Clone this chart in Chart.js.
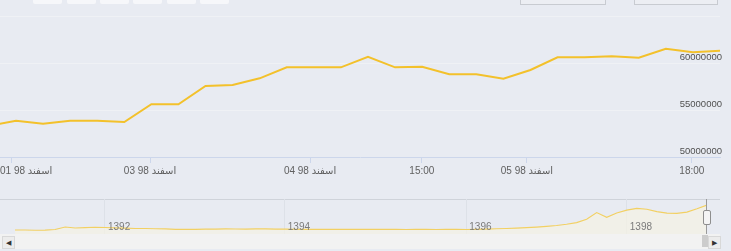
<!DOCTYPE html>
<html>
<head>
<meta charset="utf-8">
<script src="https://cdn.jsdelivr.net/npm/chart.js@4/dist/chart.umd.min.js"></script>
<style>
  body { margin: 0; background: #e8ebf2; }
  #wrap { position: relative; width: 731px; height: 251px; overflow: hidden; background: #e8ebf2; }
  canvas { position: absolute; left: 0; }
  #main { top: 0; }
  #nav { top: 190px; }
  .btn { position: absolute; top: -6px; width: 29px; height: 10px; background: #f6f7fa; border-radius: 2px; }
  .inp { position: absolute; top: -6px; height: 9px; background: #eceef3; border: 1px solid #c8cbd1; }
  #navTop { position: absolute; left: 0; top: 199px; width: 720px; height: 1px; background: #cfd3da; }
  #scroll { position: absolute; left: 0; top: 234px; width: 720px; height: 15px; background: #f2f2f2; }
  .arr { position: absolute; top: 236px; width: 11px; height: 11px; background: #ececec; border: 1px solid #d8d8d8; font: 7px sans-serif; color: #333; text-align: center; line-height: 11px; }
  #thumb { position: absolute; left: 702px; top: 235px; width: 6px; height: 12px; background: #cccccc; }
  #edge { position: absolute; left: 706px; top: 199px; width: 1px; height: 35px; background: #9a9a9a; }
  #handle { position: absolute; left: 703px; top: 210px; width: 6px; height: 13px; background: #f4f4f4; border: 1px solid #8e8e8e; border-radius: 2px; }
</style>
</head>
<body>
<div id="wrap">
  <canvas id="main" width="731" height="190"></canvas>
  <div id="navTop"></div>
  <div id="scroll"></div>
  <canvas id="nav" width="731" height="61"></canvas>
  <div class="btn" style="left:33px"></div>
  <div class="btn" style="left:67px"></div>
  <div class="btn" style="left:100px"></div>
  <div class="btn" style="left:133px"></div>
  <div class="btn" style="left:167px"></div>
  <div class="btn" style="left:200px"></div>
  <div class="inp" style="left:520px;width:84px"></div>
  <div class="inp" style="left:634px;width:82px"></div>
  <div class="arr" style="left:2px">&#9664;</div>
  <div class="arr" style="left:708px">&#9654;</div>
  <div id="thumb"></div>
  <div id="edge"></div>
  <div id="handle"></div>
</div>
<script>
// داده‌های نمودار اصلی (قیمت)
const mainValues = [
  53330000, 53860000, 53540000, 53860000, 53860000, 53720000, 55610000, 55610000,
  57550000, 57660000, 58370000, 59540000, 59540000, 59540000, 60670000, 59540000,
  59610000, 58800000, 58800000, 58330000, 59260000, 60600000, 60600000, 60710000,
  60560000, 61520000, 61140000, 61310000
];
const xTickPos = [-0.15, 4.95, 10.86, 14.99, 18.87, 24.96];
const xTickLabels = ['01 98 اسفند', '03 98 اسفند', '04 98 اسفند', '15:00', '05 98 اسفند', '18:00'];
const yTicks = [50000000, 55000000, 60000000, 65000000];

// ناوبر (تاریخچه بلندمدت، میلیون)
const navValues = [
  8.4, 8.4, 7.9, 8.2, 9.5, 14.7, 12.6, 13.2, 14.2, 13.6,
  12.8, 12.2, 11.6, 11.5, 11.0, 10.6, 9.8, 9.6, 9.8, 10.2,
  10.4, 10.6, 10.5, 10.4, 10.6, 10.8, 10.3, 10.2, 9.8, 9.6,
  9.8, 9.7, 9.8, 9.9, 9.7, 9.6, 9.8, 9.7, 9.6, 9.5,
  9.7, 9.6, 9.5, 9.6, 9.7, 9.5, 9.8, 10.4, 11.0, 11.6,
  12.5, 13.4, 14.5, 16.0, 17.8, 20.5, 24.0, 31.0, 45.0, 35.0,
  44.0, 50.0, 54.0, 52.0, 47.0, 44.0, 43.5, 46.0, 53.0, 60.9
];
const navTickPos = [8.97, 26.9, 45.0, 61.0];
const navTickLabels = ['1392', '1394', '1396', '1398'];

const FONT = '"Liberation Sans", "DejaVu Sans", sans-serif';

// برچسب‌های محور افقی (اولین برچسب داخل کادر می‌ماند)
const xLabelPlugin = {
  id: 'xLabels',
  afterDraw(chart) {
    const sc = chart.scales.x;
    const ctx = chart.ctx;
    ctx.save();
    ctx.font = '10px ' + FONT;
    ctx.fillStyle = '#606060';
    ctx.textBaseline = 'middle';
    ctx.textAlign = 'left';
    xTickPos.forEach((p, i) => {
      const px = sc.getPixelForValue(p);
      const w = ctx.measureText(xTickLabels[i]).width;
      const left = Math.max(0, px - w / 2);
      ctx.fillText(xTickLabels[i], left, sc.top + 14);
    });
    ctx.restore();
  }
};

new Chart(document.getElementById('main'), {
  type: 'line',
  data: {
    datasets: [{
      data: mainValues.map((v, i) => ({ x: i - 1, y: v })),
      borderColor: '#f3c12b',
      borderWidth: 2,
      pointRadius: 0,
      tension: 0,
      fill: false
    }]
  },
  options: {
    responsive: false,
    animation: false,
    layout: { padding: { top: 16, left: 0, right: 7, bottom: 27 }, autoPadding: false },
    plugins: { legend: { display: false }, tooltip: { enabled: false } },
    scales: {
      x: {
        type: 'linear',
        min: -0.59,
        max: 26.0,
        afterBuildTicks: (s) => { s.ticks = xTickPos.map(v => ({ value: v })); },
        grid: { drawOnChartArea: false, drawTicks: true, tickLength: 6, color: '#ccd6eb' },
        border: { color: '#ccd6eb' },
        ticks: { display: false }
      },
      y: {
        position: 'right',
        min: 50000000,
        max: 65000000,
        afterBuildTicks: (s) => { s.ticks = yTicks.map(v => ({ value: v })); },
        grid: { color: '#eff1f5', drawTicks: false },
        border: { display: false },
        ticks: {
          mirror: true,
          padding: 2,
          labelOffset: -6,
          color: '#505050',
          font: { family: FONT, size: 9.5 },
          callback: (v) => v === 65000000 ? '' : String(v)
        }
      }
    }
  },
  plugins: [xLabelPlugin]
});

const navLabelPlugin = {
  id: 'navLabels',
  afterDraw(chart) {
    const sc = chart.scales.x;
    const ctx = chart.ctx;
    ctx.save();
    ctx.font = '10px ' + FONT;
    ctx.fillStyle = '#7a7a7a';
    ctx.textBaseline = 'middle';
    ctx.textAlign = 'left';
    navTickPos.forEach((p, i) => {
      ctx.fillText(navTickLabels[i], sc.getPixelForValue(p) + 3, chart.chartArea.bottom - 7);
    });
    ctx.restore();
  }
};

new Chart(document.getElementById('nav'), {
  type: 'line',
  data: {
    datasets: [{
      data: navValues.map((v, i) => ({ x: i, y: v })),
      borderColor: '#f2d063',
      borderWidth: 1.2,
      pointRadius: 0,
      tension: 0,
      fill: 'origin',
      backgroundColor: 'rgba(245,242,228,0.7)'
    }]
  },
  options: {
    responsive: false,
    animation: false,
    layout: { padding: { top: 9, left: 15, right: 24, bottom: 17 }, autoPadding: false },
    plugins: { legend: { display: false }, tooltip: { enabled: false } },
    scales: {
      x: {
        type: 'linear',
        min: 0,
        max: 69,
        afterBuildTicks: (s) => { s.ticks = navTickPos.map(v => ({ value: v })); },
        grid: { color: '#dde1e8', drawTicks: false },
        border: { display: false },
        ticks: { display: false }
      },
      y: {
        display: false,
        min: 0,
        max: 73.5
      }
    }
  },
  plugins: [navLabelPlugin]
});
</script>
</body>
</html>
